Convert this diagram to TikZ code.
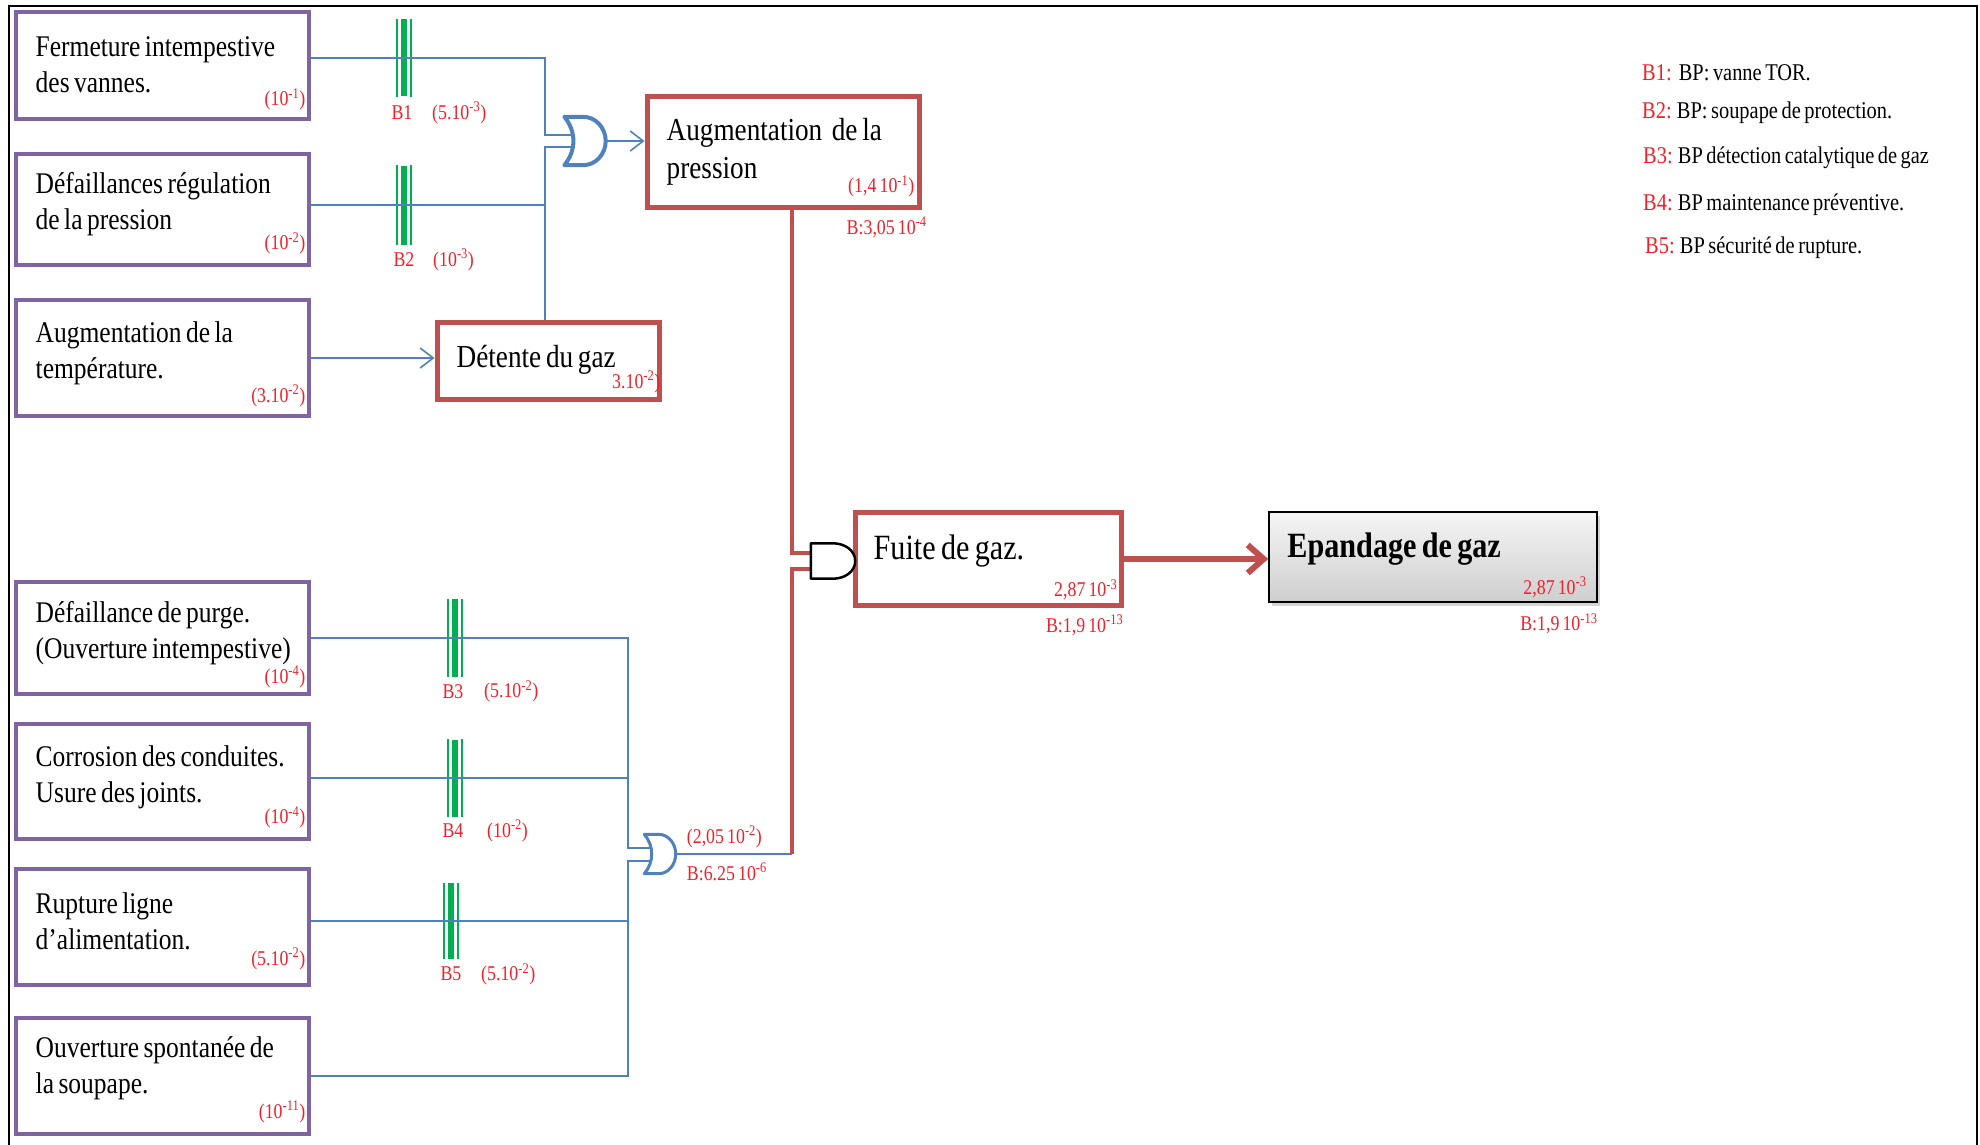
\documentclass[tikz,border=0pt]{standalone}
\usepackage{fontspec}
\setmainfont{Liberation Serif}[FakeStretch=0.85,WordSpace=0.7]
\usetikzlibrary{arrows.meta,calc,shadows}
\definecolor{EvtPurple}{HTML}{8064A2}
\definecolor{GateRed}{HTML}{C0504D}
\definecolor{LinkBlue}{HTML}{4F81BD}
\definecolor{BarGreen}{HTML}{00B050}
\definecolor{ProbRed}{HTML}{F0202A}

% gate outlines drawn on an empty node
\newcommand{\orshape}[2]{%
  \draw[#2,fill=white,line join=round] (#1.north west) -- ($(#1.north west)!0.45!(#1.north east)$)
    to[out=0,in=90] (#1.east) to[out=-90,in=0] ($(#1.south west)!0.45!(#1.south east)$)
    -- (#1.south west) to[out=50,in=-50] (#1.north west) -- cycle;}
\newcommand{\andshape}[2]{%
  \draw[#2,fill=white,line join=round] (#1.north west) -- ($(#1.north west)!0.5!(#1.north east)$)
    to[out=0,in=90] (#1.east) to[out=-90,in=0] ($(#1.south west)!0.5!(#1.south east)$)
    -- (#1.south west) -- cycle;}

\begin{document}
\begin{tikzpicture}[x=1pt,y=-1pt,
evt/.style={draw=EvtPurple,line width=4pt,minimum width=293pt,inner sep=0pt},
evtxt/.style={anchor=west,inner sep=0pt,align=left,font=\fontsize{30}{36}\selectfont},
topevt/.style={draw=GateRed,line width=5pt,inner sep=0pt},
toptxt/.style={anchor=west,inner sep=0pt,align=left,font=\fontsize{32}{38}\selectfont},
prob/.style={text=ProbRed,inner sep=0pt,font=\fontsize{21}{24}\selectfont},
barrier/.style={fill=BarGreen,minimum width=6pt,inner sep=0pt},
gatebox/.style={inner sep=0pt},
link/.style={LinkBlue,line width=1.6pt},
redlink/.style={GateRed,line width=4.5pt},
arr/.style={link,-{Straight Barb[length=13pt,width=20pt]}},
bigarr/.style={GateRed,line width=6pt,-{Straight Barb[length=16pt,width=28pt]}},
legend/.style={anchor=west,inner sep=0pt,font=\fontsize{24}{28}\selectfont}
]
\useasboundingbox (0,0) rectangle (1980,1145);
\draw[line width=2.5pt] (9,1145) -- (9,6) -- (1977,6) -- (1977,1145);

% basic events
\node[evt,minimum height=107pt] (b1) at (162,66) {};
\node[evt,minimum height=111pt] (b2) at (162,209) {};
\node[evt,minimum height=116pt] (b3) at (162,358) {};
\node[evt,minimum height=112pt] (b4) at (162,638) {};
\node[evt,minimum height=115pt] (b5) at (162,781) {};
\node[evt,minimum height=116pt] (b6) at (162,927) {};
\node[evt,minimum height=116pt] (b7) at (162,1076) {};
\node[evtxt] (t1) at ([shift={(22,-1)}]b1.west) {Fermeture intempestive\\des vannes.};
\node[evtxt] (t2) at ([shift={(22,-5)}]b2.west) {Défaillances régulation\\de la pression};
\node[evtxt] (t3) at ([shift={(22,-5)}]b3.west) {Augmentation de la\\température.};
\node[evtxt] (t4) at ([shift={(22,-5)}]b4.west) {Défaillance de purge.\\(Ouverture intempestive)};
\node[evtxt] (t5) at ([shift={(22,-4)}]b5.west) {Corrosion des conduites.\\Usure des joints.};
\node[evtxt] (t6) at ([shift={(22,-6)}]b6.west) {Rupture ligne\\d’alimentation.};
\node[evtxt] (t7) at ([shift={(22,-8)}]b7.west) {Ouverture spontanée de\\la soupape.};

\node[prob,anchor=south east] (p1) at ([shift={(-5,-11)}]b1.south east) {(10\textsuperscript{-1})};
\node[prob,anchor=south east] (p2) at ([shift={(-5,-12)}]b2.south east) {(10\textsuperscript{-2})};
\node[prob,anchor=south east] (p3) at ([shift={(-5,-11)}]b3.south east) {(3.10\textsuperscript{-2})};
\node[prob,anchor=south east] (p4) at ([shift={(-5,-8)}]b4.south east) {(10\textsuperscript{-4})};
\node[prob,anchor=south east] (p5) at ([shift={(-5,-12)}]b5.south east) {(10\textsuperscript{-4})};
\node[prob,anchor=south east] (p6) at ([shift={(-5,-17)}]b6.south east) {(5.10\textsuperscript{-2})};
\node[prob,anchor=south east] (p7) at ([shift={(-5,-13)}]b7.south east) {(10\textsuperscript{-11})};

% intermediate and top events
\node[topevt,minimum width=272pt,minimum height=110pt] (aug) at (783,152) {};
\node[topevt,minimum width=222pt,minimum height=77pt] (det) at (548,361) {};
\node[topevt,minimum width=266pt,minimum height=93pt] (fuite) at (988,559) {};
\node[draw=black,line width=1.5pt,top color=gray!8,bottom color=gray!38,drop shadow={shadow xshift=3pt,shadow yshift=-4pt,opacity=0.35},minimum width=328pt,minimum height=90pt,inner sep=0pt] (epan) at (1433,557) {};
\node[toptxt] (taug) at ([shift={(22,0)}]aug.west) {Augmentation\ \ de la\\pression};
\node[toptxt] (tdet) at ([shift={(22,-1)}]det.west) {Détente du gaz};
\node[toptxt,font=\fontsize{35.5}{42}\selectfont] (tfuite) at ([shift={(21,-8)}]fuite.west) {Fuite de gaz.};
\node[toptxt,font=\bfseries\fontsize{35.5}{42}\selectfont] (tepan) at ([shift={(19,-8)}]epan.west) {Epandage de gaz};

\node[prob,anchor=south east] (paug) at ([shift={(-7,-12)}]aug.south east) {(1,4 10\textsuperscript{-1})};
\node[prob,anchor=west] (baug) at ([shift={(-75,18)}]aug.south east) {B:3,05 10\textsuperscript{-4}};
\node[prob,anchor=south east] (pdet) at ([shift={(-1,-9)}]det.south east) {3.10\textsuperscript{-2})};
\node[prob,anchor=south east] (pfuite) at ([shift={(-6,-8)}]fuite.south east) {2,87 10\textsuperscript{-3}};
\node[prob,anchor=east] (bfuite) at ([shift={(0,17)}]fuite.south east) {B:1,9 10\textsuperscript{-13}};
\node[prob,anchor=south east] (pepan) at ([shift={(-11,-5)}]epan.south east) {2,87 10\textsuperscript{-3}};
\node[prob,anchor=east] (bepan) at ([shift={(0,21)}]epan.south east) {B:1,9 10\textsuperscript{-13}};

% gates
\node[gatebox,minimum width=41pt,minimum height=48pt] (or1) at (585,141) {};
\node[gatebox,minimum width=31pt,minimum height=39pt] (or2) at (660,854) {};
\node[gatebox,minimum width=44pt,minimum height=35pt] (and1) at (833,561) {};
\node[prob,anchor=west] (por2) at ([shift={(11,-17)}]or2.east) {(2,05 10\textsuperscript{-2})};
\node[prob,anchor=west] (bor2) at ([shift={(11,18)}]or2.east) {B:6.25 10\textsuperscript{-6}};
\coordinate (bus1) at (545,141);
\coordinate (bus2) at (628,854);
\coordinate (rbus) at (792,561);

% barriers
\node[barrier,minimum height=77pt] (br1) at (404,58) {};
\node[barrier,minimum height=79pt] (br2) at (404,205) {};
\node[barrier,minimum height=78pt] (br3) at (455,638) {};
\node[barrier,minimum height=77pt] (br4) at (455,778) {};
\node[barrier,minimum height=76pt] (br5) at (451,921) {};
\foreach \b in {br1,br2,br3,br4,br5}
  \draw[BarGreen,line width=1.5pt] ([shift={(-7,0)}]\b.north) -- ([shift={(-7,0)}]\b.south)
    ([shift={(7,0)}]\b.north) -- ([shift={(7,0)}]\b.south);
\node[prob] (lb1) at ([shift={(-2,16)}]br1.south) {B1};
\node[prob,anchor=west] (pb1) at ([shift={(28,16)}]br1.south) {(5.10\textsuperscript{-3})};
\node[prob] (lb2) at ([shift={(0,15)}]br2.south) {B2};
\node[prob,anchor=west] (pb2) at ([shift={(29,15)}]br2.south) {(10\textsuperscript{-3})};
\node[prob] (lb3) at ([shift={(-2,14)}]br3.south) {B3};
\node[prob,anchor=west] (pb3) at ([shift={(29,14)}]br3.south) {(5.10\textsuperscript{-2})};
\node[prob] (lb4) at ([shift={(-2,14)}]br4.south) {B4};
\node[prob,anchor=west] (pb4) at ([shift={(32,14)}]br4.south) {(10\textsuperscript{-2})};
\node[prob] (lb5) at ([shift={(0,15)}]br5.south) {B5};
\node[prob,anchor=west] (pb5) at ([shift={(30,15)}]br5.south) {(5.10\textsuperscript{-2})};

% connectors
\draw[link] (b1.east |- br1) -| ([shift={(0,-6)}]bus1) -- ([shift={(8,-6)}]or1.west);
\draw[link] (b2.east |- br2) -- (bus1 |- br2);
\draw[link] (det.north -| bus1) -- ([shift={(0,6)}]bus1) -- ([shift={(8,6)}]or1.west);
\draw[arr] (b3.east) -- (b3.east -| det.west);
\draw[arr] (or1.east) -- (or1.east -| aug.west);
\draw[link] (b4.east |- br3) -| ([shift={(0,-6)}]bus2) -- ([shift={(6,-6)}]or2.west);
\draw[link] (b5.east |- br4) -- (bus2 |- br4);
\draw[link] (b6.east |- br5) -- (bus2 |- br5);
\draw[link] (b7.east) -| ([shift={(0,7)}]bus2) -- ([shift={(6,7)}]or2.west);
\draw[link] (or2.east) -- (or2.east -| rbus);
\draw[redlink] (aug.south -| rbus) |- ([shift={(3,-8)}]and1.west);
\draw[redlink] (or2.east -| rbus) |- ([shift={(3,8)}]and1.west);
\draw[bigarr] (fuite.east) -- (fuite.east -| epan.west);
\orshape{or1}{LinkBlue,line width=4pt}
\orshape{or2}{LinkBlue,line width=3pt}
\andshape{and1}{black,line width=2.5pt}

% legend
\node[legend] (leg1) at (1642,73) {\textcolor{ProbRed}{B1:}\ \ BP: vanne TOR.};
\node[legend] (leg2) at (1642,113) {\textcolor{ProbRed}{B2:} BP: soupape de protection.};
\node[legend] (leg3) at (1643,158) {\textcolor{ProbRed}{B3:} BP détection catalytique de gaz};
\node[legend] (leg4) at (1643,205) {\textcolor{ProbRed}{B4:} BP maintenance préventive.};
\node[legend] (leg5) at (1645,248) {\textcolor{ProbRed}{B5:} BP sécurité de rupture.};
\end{tikzpicture}
\end{document}
